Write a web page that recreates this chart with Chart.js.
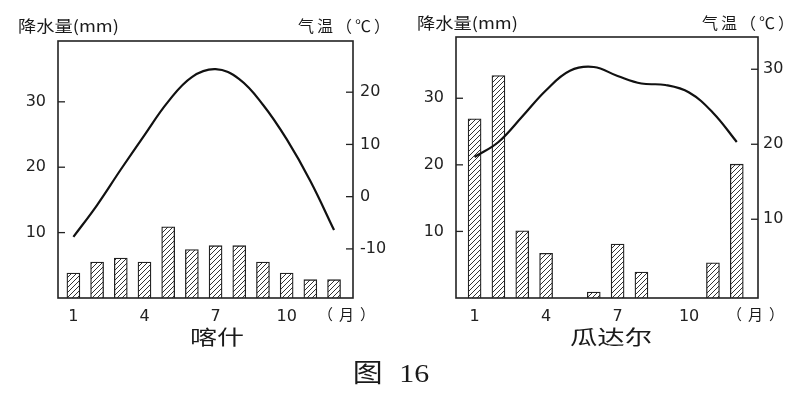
<!DOCTYPE html>
<html>
<head>
<meta charset="utf-8">
<script src="https://cdn.jsdelivr.net/npm/chart.js@4.4.1/dist/chart.umd.min.js"></script>
<style>
  body { margin: 0; width: 795px; height: 393px; background: #fff; position: relative; overflow: hidden;
         font-family: "Noto Sans CJK SC", sans-serif; color: #1a1a1a; }
  canvas { position: absolute; top: 0; }
  .t { position: absolute; white-space: nowrap; line-height: 1; }
  .c { transform-origin: center; }
</style>
</head>
<body>
<canvas id="kashi" width="400" height="393" style="left:0;width:400px;height:393px"></canvas>
<canvas id="gwadar" width="395" height="393" style="left:400px;width:395px;height:393px"></canvas>

<div class="t" style="left:18px;top:17px;font-size:16px;transform:scaleX(1.14);transform-origin:0 0">降水量(mm)</div>
<div class="t" style="left:298px;top:17px;font-size:16px;letter-spacing:3px">气温（℃）</div>
<div class="t" style="left:318px;top:306px;font-size:15px;letter-spacing:6px">（月）</div>
<div class="t c" style="left:217px;top:337px;font-size:20px;transform:translate(-50%,-50%) scaleX(1.35)">喀什</div>

<div class="t" style="left:417px;top:14px;font-size:16px;transform:scaleX(1.14);transform-origin:0 0">降水量(mm)</div>
<div class="t" style="left:702px;top:14px;font-size:16px;letter-spacing:3px">气温（℃）</div>
<div class="t" style="left:727px;top:306px;font-size:15px;letter-spacing:6px">（月）</div>
<div class="t c" style="left:611px;top:337px;font-size:20px;transform:translate(-50%,-50%) scaleX(1.37)">瓜达尔</div>

<div class="t c" style="left:391px;top:374px;font-size:26px;font-family:'Liberation Serif','Noto Sans CJK SC',serif;word-spacing:8px;transform:translate(-50%,-50%) scaleX(1.15)">图 16</div>

<script>
// 月份
const months = [1, 2, 3, 4, 5, 6, 7, 8, 9, 10, 11, 12];
const monthTicks = [1, 4, 7, 10];

// 喀什
const kashiRain = [3.8, 5.5, 6.1, 5.5, 10.9, 7.4, 8.0, 8.0, 5.5, 3.8, 2.8, 2.8];
const kashiTemp = [-7.7, -1.6, 5.2, 11.8, 18.2, 22.9, 24.4, 22.5, 17.6, 11.0, 3.0, -6.4];
const kashiRainTicks = [10, 20, 30];
const kashiTempTicks = [-10, 0, 10, 20];

// 瓜达尔
const gwadarRain = [26.9, 33.4, 10.1, 6.7, 0, 0.9, 8.1, 3.9, 0, 0, 5.3, 20.1];
const gwadarTemp = [18.3, 20.3, 23.7, 27.2, 29.8, 30.3, 29.1, 28.1, 27.9, 26.9, 24.2, 20.3];
const gwadarRainTicks = [10, 20, 30];
const gwadarTempTicks = [10, 20, 30];

const tickFont = { family: 'DejaVu Sans', size: 16 };

// hatch pattern for bars
function hatch() {
  const s = 5;
  const c = document.createElement('canvas');
  c.width = s; c.height = s;
  const g = c.getContext('2d');
  g.fillStyle = '#fff';
  g.fillRect(0, 0, s, s);
  g.strokeStyle = '#333';
  g.lineWidth = 1;
  g.beginPath();
  g.moveTo(0, s); g.lineTo(s, 0);
  g.moveTo(-1, 1); g.lineTo(1, -1);
  g.moveTo(s - 1, s + 1); g.lineTo(s + 1, s - 1);
  g.stroke();
  return g.createPattern(c, 'repeat');
}

// box round the plot + inner tick marks
const frame = {
  id: 'frame',
  afterDraw(chart) {
    const { ctx, chartArea: a, scales } = chart;
    ctx.save();
    ctx.strokeStyle = '#222';
    ctx.lineWidth = 1.6;
    ctx.strokeRect(a.left, a.top, a.right - a.left, a.bottom - a.top);
    ctx.lineWidth = 1.3;
    scales.y.ticks.forEach(t => {
      const py = scales.y.getPixelForValue(t.value);
      ctx.beginPath(); ctx.moveTo(a.left, py); ctx.lineTo(a.left + 7, py); ctx.stroke();
    });
    scales.y1.ticks.forEach(t => {
      const py = scales.y1.getPixelForValue(t.value);
      ctx.beginPath(); ctx.moveTo(a.right, py); ctx.lineTo(a.right - 7, py); ctx.stroke();
    });
    ctx.restore();
  }
};

function makeChart(id, rain, temp, o) {
  const tickList = list => scale => { scale.ticks = list.map(v => ({ value: v })); };
  return new Chart(document.getElementById(id), {
    data: {
      datasets: [{
        type: 'line',
        data: months.map((m, i) => ({ x: m, y: temp[i] })),
        yAxisID: 'y1',
        borderColor: '#111',
        borderWidth: 2.2,
        pointRadius: 0,
        tension: 0.4,
        order: 1
      }, {
        type: 'bar',
        data: months.map((m, i) => ({ x: m, y: rain[i] })),
        yAxisID: 'y',
        backgroundColor: hatch(),
        borderColor: '#222',
        borderWidth: 1.3,
        barThickness: 13,
        order: 2
      }]
    },
    options: {
      responsive: false,
      animation: false,
      layout: { padding: { top: o.top, left: 0, right: 0, bottom: 0 } },
      plugins: { legend: { display: false }, tooltip: { enabled: false } },
      scales: {
        x: {
          type: 'linear', min: o.xMin, max: o.xMax, offset: false,
          grid: { display: false, drawTicks: false }, border: { display: false },
          afterBuildTicks: tickList(monthTicks),
          ticks: { font: tickFont, color: '#222', padding: 9, maxRotation: 0, autoSkip: false },
          afterFit: s => { s.height = 393 - o.bottom; }
        },
        y: {
          position: 'left', min: 0, max: o.rainMax,
          grid: { display: false, drawTicks: false }, border: { display: false },
          afterBuildTicks: tickList(o.rainTicks),
          ticks: { font: tickFont, color: '#222', padding: o.leftPad },
          afterFit: s => { s.width = o.left; }
        },
        y1: {
          position: 'right', min: o.tMin, max: o.tMax,
          grid: { display: false, drawTicks: false }, border: { display: false },
          afterBuildTicks: tickList(o.tempTicks),
          ticks: { font: tickFont, color: '#222', padding: o.rightPad },
          afterFit: s => { s.width = o.right; }
        }
      }
    },
    plugins: [frame]
  });
}

makeChart('kashi', kashiRain, kashiTemp, {
  top: 41, bottom: 298, left: 58, right: 47,
  xMin: 0.35, xMax: 12.8,
  rainMax: 39.3, rainTicks: kashiRainTicks, leftPad: 12,
  tMin: -19.4, tMax: 29.8, tempTicks: kashiTempTicks, rightPad: 7
});

makeChart('gwadar', gwadarRain, gwadarTemp, {
  top: 37, bottom: 298, left: 56, right: 37,
  xMin: 0.22, xMax: 12.89,
  rainMax: 39.2, rainTicks: gwadarRainTicks, leftPad: 12,
  tMin: -0.5, tMax: 34.3, tempTicks: gwadarTempTicks, rightPad: 5
});
</script>
</body>
</html>
